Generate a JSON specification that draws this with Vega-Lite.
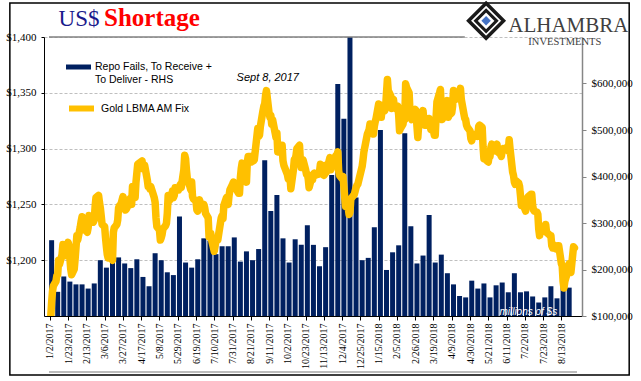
{
  "$schema": "https://vega.github.io/schema/vega-lite/v6.json",
  "width": 538,
  "height": 279,
  "autosize": {"type": "none"},
  "padding": {"left": 44, "top": 37, "right": 59, "bottom": 65},
  "background": "white",
  "config": {
    "view": {"stroke": null},
    "axisX": {"labelOverlap": false, "labelFlush": false, "labelBound": false, "labelAngle": 270, "labelAlign": "right", "labelBaseline": "middle", "labelFont": "Liberation Serif", "labelFontSize": 10, "labelColor": "black", "labelPadding": 3, "tickSize": 4, "tickColor": "black", "domainColor": "black", "grid": false, "title": null}
  },
  "datasets": {
    "repo": [
      {"week":"2017-01-04","fails":263000},{"week":"2017-01-11","fails":152000},{"week":"2017-01-18","fails":185000},{"week":"2017-01-25","fails":174000},
      {"week":"2017-02-01","fails":168000},{"week":"2017-02-08","fails":168000},{"week":"2017-02-15","fails":159000},{"week":"2017-02-22","fails":170000},
      {"week":"2017-03-01","fails":220000},{"week":"2017-03-08","fails":204000},{"week":"2017-03-15","fails":217000},{"week":"2017-03-22","fails":226000},
      {"week":"2017-03-29","fails":213000},{"week":"2017-04-05","fails":203000},{"week":"2017-04-12","fails":222000},{"week":"2017-04-19","fails":184000},
      {"week":"2017-04-26","fails":164000},{"week":"2017-05-03","fails":235000},{"week":"2017-05-10","fails":220000},{"week":"2017-05-17","fails":194000},
      {"week":"2017-05-24","fails":188000},{"week":"2017-05-31","fails":314000},{"week":"2017-06-07","fails":215000},{"week":"2017-06-14","fails":204000},
      {"week":"2017-06-21","fails":222000},{"week":"2017-06-28","fails":267000},{"week":"2017-07-05","fails":262000},{"week":"2017-07-12","fails":233000},
      {"week":"2017-07-19","fails":250000},{"week":"2017-07-26","fails":250000},{"week":"2017-08-02","fails":269000},{"week":"2017-08-09","fails":217000},
      {"week":"2017-08-16","fails":239000},{"week":"2017-08-23","fails":220000},{"week":"2017-08-30","fails":244000},{"week":"2017-09-06","fails":435000},
      {"week":"2017-09-13","fails":326000},{"week":"2017-09-20","fails":360000},{"week":"2017-09-27","fails":267000},{"week":"2017-10-04","fails":215000},
      {"week":"2017-10-11","fails":265000},{"week":"2017-10-18","fails":253000},{"week":"2017-10-25","fails":295000},{"week":"2017-11-01","fails":253000},
      {"week":"2017-11-08","fails":207000},{"week":"2017-11-15","fails":248000},{"week":"2017-11-22","fails":403000},{"week":"2017-11-29","fails":599000},
      {"week":"2017-12-06","fails":524000},{"week":"2017-12-13","fails":760000},{"week":"2017-12-20","fails":355000},{"week":"2017-12-27","fails":220000},
      {"week":"2018-01-03","fails":225000},{"week":"2018-01-10","fails":291000},{"week":"2018-01-17","fails":500000},{"week":"2018-01-24","fails":199000},
      {"week":"2018-01-31","fails":237000},{"week":"2018-02-07","fails":252000},{"week":"2018-02-14","fails":493000},{"week":"2018-02-21","fails":293000},
      {"week":"2018-02-28","fails":213000},{"week":"2018-03-07","fails":230000},{"week":"2018-03-14","fails":317000},{"week":"2018-03-21","fails":215000},
      {"week":"2018-03-28","fails":232000},{"week":"2018-04-04","fails":192000},{"week":"2018-04-11","fails":168000},{"week":"2018-04-18","fails":143000},
      {"week":"2018-04-25","fails":140000},{"week":"2018-05-02","fails":176000},{"week":"2018-05-09","fails":159000},{"week":"2018-05-16","fails":170000},
      {"week":"2018-05-23","fails":140000},{"week":"2018-05-30","fails":166000},{"week":"2018-06-06","fails":172000},{"week":"2018-06-13","fails":151000},
      {"week":"2018-06-20","fails":192000},{"week":"2018-06-27","fails":151000},{"week":"2018-07-04","fails":153000},{"week":"2018-07-11","fails":142000},
      {"week":"2018-07-18","fails":129000},{"week":"2018-07-25","fails":140000},{"week":"2018-08-01","fails":164000},{"week":"2018-08-08","fails":138000},
      {"week":"2018-08-15","fails":162000},{"week":"2018-08-22","fails":161000}
    ],
    "gold": [
      {"date":"2017-01-03","gold":1149},{"date":"2017-01-04","gold":1162},{"date":"2017-01-05","gold":1172},{"date":"2017-01-06","gold":1177},
      {"date":"2017-01-09","gold":1181},{"date":"2017-01-10","gold":1186},{"date":"2017-01-11","gold":1187},{"date":"2017-01-12","gold":1200},
      {"date":"2017-01-13","gold":1196},{"date":"2017-01-16","gold":1205},{"date":"2017-01-17","gold":1214},{"date":"2017-01-18","gold":1212},
      {"date":"2017-01-19","gold":1204},{"date":"2017-01-20","gold":1205},{"date":"2017-01-23","gold":1216},{"date":"2017-01-24","gold":1213},
      {"date":"2017-01-25","gold":1202},{"date":"2017-01-26","gold":1192},{"date":"2017-01-27","gold":1187},{"date":"2017-01-30","gold":1192},
      {"date":"2017-01-31","gold":1201},{"date":"2017-02-01","gold":1211},{"date":"2017-02-02","gold":1222},{"date":"2017-02-03","gold":1218},
      {"date":"2017-02-06","gold":1230},{"date":"2017-02-07","gold":1235},{"date":"2017-02-08","gold":1239},{"date":"2017-02-09","gold":1232},
      {"date":"2017-02-10","gold":1228},{"date":"2017-02-13","gold":1226},{"date":"2017-02-14","gold":1225},{"date":"2017-02-15","gold":1229},
      {"date":"2017-02-16","gold":1240},{"date":"2017-02-17","gold":1238},{"date":"2017-02-20","gold":1237},{"date":"2017-02-21","gold":1234},
      {"date":"2017-02-22","gold":1236},{"date":"2017-02-23","gold":1248},{"date":"2017-02-24","gold":1256},{"date":"2017-02-27","gold":1258},
      {"date":"2017-02-28","gold":1252},{"date":"2017-03-01","gold":1247},{"date":"2017-03-02","gold":1240},{"date":"2017-03-03","gold":1232},
      {"date":"2017-03-06","gold":1230},{"date":"2017-03-07","gold":1220},{"date":"2017-03-08","gold":1212},{"date":"2017-03-09","gold":1205},
      {"date":"2017-03-10","gold":1202},{"date":"2017-03-13","gold":1203},{"date":"2017-03-14","gold":1201},{"date":"2017-03-15","gold":1200},
      {"date":"2017-03-16","gold":1225},{"date":"2017-03-17","gold":1229},{"date":"2017-03-20","gold":1232},{"date":"2017-03-21","gold":1236},
      {"date":"2017-03-22","gold":1247},{"date":"2017-03-23","gold":1249},{"date":"2017-03-24","gold":1248},{"date":"2017-03-27","gold":1257},
      {"date":"2017-03-28","gold":1253},{"date":"2017-03-29","gold":1252},{"date":"2017-03-30","gold":1245},{"date":"2017-03-31","gold":1246},
      {"date":"2017-04-03","gold":1251},{"date":"2017-04-04","gold":1255},{"date":"2017-04-05","gold":1256},{"date":"2017-04-06","gold":1250},
      {"date":"2017-04-07","gold":1266},{"date":"2017-04-10","gold":1256},{"date":"2017-04-11","gold":1270},{"date":"2017-04-12","gold":1278},
      {"date":"2017-04-13","gold":1286},{"date":"2017-04-18","gold":1289},{"date":"2017-04-19","gold":1282},{"date":"2017-04-20","gold":1283},
      {"date":"2017-04-21","gold":1285},{"date":"2017-04-24","gold":1272},{"date":"2017-04-25","gold":1266},{"date":"2017-04-26","gold":1266},
      {"date":"2017-04-27","gold":1264},{"date":"2017-04-28","gold":1266},{"date":"2017-05-02","gold":1256},{"date":"2017-05-03","gold":1252},
      {"date":"2017-05-04","gold":1238},{"date":"2017-05-05","gold":1230},{"date":"2017-05-08","gold":1227},{"date":"2017-05-09","gold":1218},
      {"date":"2017-05-10","gold":1220},{"date":"2017-05-11","gold":1223},{"date":"2017-05-12","gold":1228},{"date":"2017-05-15","gold":1231},
      {"date":"2017-05-16","gold":1233},{"date":"2017-05-17","gold":1242},{"date":"2017-05-18","gold":1258},{"date":"2017-05-19","gold":1253},
      {"date":"2017-05-22","gold":1257},{"date":"2017-05-23","gold":1262},{"date":"2017-05-24","gold":1256},{"date":"2017-05-25","gold":1258},
      {"date":"2017-05-26","gold":1265},{"date":"2017-05-30","gold":1263},{"date":"2017-05-31","gold":1266},{"date":"2017-06-01","gold":1268},
      {"date":"2017-06-02","gold":1265},{"date":"2017-06-05","gold":1281},{"date":"2017-06-06","gold":1294},{"date":"2017-06-07","gold":1291},
      {"date":"2017-06-08","gold":1281},{"date":"2017-06-09","gold":1273},{"date":"2017-06-12","gold":1266},{"date":"2017-06-13","gold":1263},
      {"date":"2017-06-14","gold":1270},{"date":"2017-06-15","gold":1257},{"date":"2017-06-16","gold":1255},{"date":"2017-06-19","gold":1253},
      {"date":"2017-06-20","gold":1245},{"date":"2017-06-21","gold":1244},{"date":"2017-06-22","gold":1251},{"date":"2017-06-23","gold":1254},
      {"date":"2017-06-26","gold":1247},{"date":"2017-06-27","gold":1247},{"date":"2017-06-28","gold":1250},{"date":"2017-06-29","gold":1247},
      {"date":"2017-06-30","gold":1242},{"date":"2017-07-03","gold":1238},{"date":"2017-07-04","gold":1221},{"date":"2017-07-05","gold":1224},
      {"date":"2017-07-06","gold":1224},{"date":"2017-07-07","gold":1218},{"date":"2017-07-10","gold":1208},{"date":"2017-07-11","gold":1213},
      {"date":"2017-07-12","gold":1219},{"date":"2017-07-13","gold":1219},{"date":"2017-07-14","gold":1218},{"date":"2017-07-17","gold":1233},
      {"date":"2017-07-18","gold":1238},{"date":"2017-07-19","gold":1240},{"date":"2017-07-20","gold":1237},{"date":"2017-07-21","gold":1249},
      {"date":"2017-07-24","gold":1256},{"date":"2017-07-25","gold":1253},{"date":"2017-07-26","gold":1250},{"date":"2017-07-27","gold":1258},
      {"date":"2017-07-28","gold":1263},{"date":"2017-07-31","gold":1268},{"date":"2017-08-01","gold":1270},{"date":"2017-08-02","gold":1268},
      {"date":"2017-08-03","gold":1268},{"date":"2017-08-04","gold":1264},{"date":"2017-08-07","gold":1260},{"date":"2017-08-08","gold":1260},
      {"date":"2017-08-09","gold":1274},{"date":"2017-08-10","gold":1282},{"date":"2017-08-11","gold":1287},{"date":"2017-08-14","gold":1284},
      {"date":"2017-08-15","gold":1274},{"date":"2017-08-16","gold":1270},{"date":"2017-08-17","gold":1288},{"date":"2017-08-18","gold":1293},
      {"date":"2017-08-21","gold":1293},{"date":"2017-08-22","gold":1288},{"date":"2017-08-23","gold":1290},{"date":"2017-08-24","gold":1289},
      {"date":"2017-08-25","gold":1290},{"date":"2017-08-29","gold":1318},{"date":"2017-08-30","gold":1311},{"date":"2017-08-31","gold":1312},
      {"date":"2017-09-01","gold":1320},{"date":"2017-09-04","gold":1334},{"date":"2017-09-05","gold":1338},{"date":"2017-09-06","gold":1340},
      {"date":"2017-09-07","gold":1348},{"date":"2017-09-08","gold":1352},{"date":"2017-09-11","gold":1332},{"date":"2017-09-12","gold":1328},
      {"date":"2017-09-13","gold":1330},{"date":"2017-09-14","gold":1322},{"date":"2017-09-15","gold":1326},{"date":"2017-09-18","gold":1314},
      {"date":"2017-09-19","gold":1310},{"date":"2017-09-20","gold":1314},{"date":"2017-09-21","gold":1297},{"date":"2017-09-22","gold":1297},
      {"date":"2017-09-25","gold":1303},{"date":"2017-09-26","gold":1303},{"date":"2017-09-27","gold":1289},{"date":"2017-09-28","gold":1285},
      {"date":"2017-09-29","gold":1283},{"date":"2017-10-02","gold":1277},{"date":"2017-10-03","gold":1273},{"date":"2017-10-04","gold":1277},
      {"date":"2017-10-05","gold":1276},{"date":"2017-10-06","gold":1264},{"date":"2017-10-09","gold":1281},{"date":"2017-10-10","gold":1290},
      {"date":"2017-10-11","gold":1290},{"date":"2017-10-12","gold":1294},{"date":"2017-10-13","gold":1300},{"date":"2017-10-16","gold":1303},
      {"date":"2017-10-17","gold":1289},{"date":"2017-10-18","gold":1283},{"date":"2017-10-19","gold":1285},{"date":"2017-10-20","gold":1290},
      {"date":"2017-10-23","gold":1281},{"date":"2017-10-24","gold":1277},{"date":"2017-10-25","gold":1277},{"date":"2017-10-26","gold":1273},
      {"date":"2017-10-27","gold":1265},{"date":"2017-10-30","gold":1274},{"date":"2017-10-31","gold":1272},{"date":"2017-11-01","gold":1277},
      {"date":"2017-11-02","gold":1278},{"date":"2017-11-03","gold":1276},{"date":"2017-11-06","gold":1277},{"date":"2017-11-07","gold":1277},
      {"date":"2017-11-08","gold":1279},{"date":"2017-11-09","gold":1286},{"date":"2017-11-10","gold":1285},{"date":"2017-11-13","gold":1276},
      {"date":"2017-11-14","gold":1277},{"date":"2017-11-15","gold":1285},{"date":"2017-11-16","gold":1279},{"date":"2017-11-17","gold":1283},
      {"date":"2017-11-20","gold":1292},{"date":"2017-11-21","gold":1281},{"date":"2017-11-22","gold":1284},{"date":"2017-11-23","gold":1291},
      {"date":"2017-11-24","gold":1290},{"date":"2017-11-27","gold":1294},{"date":"2017-11-28","gold":1294},{"date":"2017-11-29","gold":1297},
      {"date":"2017-11-30","gold":1280},{"date":"2017-12-01","gold":1276},{"date":"2017-12-04","gold":1273},{"date":"2017-12-05","gold":1275},
      {"date":"2017-12-06","gold":1266},{"date":"2017-12-07","gold":1256},{"date":"2017-12-08","gold":1248},{"date":"2017-12-11","gold":1247},
      {"date":"2017-12-12","gold":1241},{"date":"2017-12-13","gold":1243},{"date":"2017-12-14","gold":1255},{"date":"2017-12-15","gold":1256},
      {"date":"2017-12-18","gold":1259},{"date":"2017-12-19","gold":1262},{"date":"2017-12-20","gold":1265},{"date":"2017-12-21","gold":1267},
      {"date":"2017-12-22","gold":1268},{"date":"2017-12-27","gold":1284},{"date":"2017-12-28","gold":1290},{"date":"2017-12-29","gold":1297},
      {"date":"2018-01-02","gold":1313},{"date":"2018-01-03","gold":1315},{"date":"2018-01-04","gold":1317},{"date":"2018-01-05","gold":1322},
      {"date":"2018-01-08","gold":1321},{"date":"2018-01-09","gold":1313},{"date":"2018-01-10","gold":1320},{"date":"2018-01-11","gold":1324},
      {"date":"2018-01-12","gold":1327},{"date":"2018-01-15","gold":1340},{"date":"2018-01-16","gold":1337},{"date":"2018-01-17","gold":1339},
      {"date":"2018-01-18","gold":1328},{"date":"2018-01-19","gold":1336},{"date":"2018-01-22","gold":1334},{"date":"2018-01-23","gold":1337},
      {"date":"2018-01-24","gold":1350},{"date":"2018-01-25","gold":1362},{"date":"2018-01-26","gold":1352},{"date":"2018-01-29","gold":1347},
      {"date":"2018-01-30","gold":1336},{"date":"2018-01-31","gold":1343},{"date":"2018-02-01","gold":1344},{"date":"2018-02-02","gold":1338},
      {"date":"2018-02-05","gold":1335},{"date":"2018-02-06","gold":1338},{"date":"2018-02-07","gold":1330},{"date":"2018-02-08","gold":1316},
      {"date":"2018-02-09","gold":1318},{"date":"2018-02-12","gold":1322},{"date":"2018-02-13","gold":1328},{"date":"2018-02-14","gold":1326},
      {"date":"2018-02-15","gold":1358},{"date":"2018-02-16","gold":1355},{"date":"2018-02-19","gold":1350},{"date":"2018-02-20","gold":1333},
      {"date":"2018-02-21","gold":1330},{"date":"2018-02-22","gold":1326},{"date":"2018-02-23","gold":1331},{"date":"2018-02-26","gold":1335},
      {"date":"2018-02-27","gold":1334},{"date":"2018-02-28","gold":1320},{"date":"2018-03-01","gold":1310},{"date":"2018-03-02","gold":1321},
      {"date":"2018-03-05","gold":1323},{"date":"2018-03-06","gold":1330},{"date":"2018-03-07","gold":1334},{"date":"2018-03-08","gold":1325},
      {"date":"2018-03-09","gold":1321},{"date":"2018-03-12","gold":1321},{"date":"2018-03-13","gold":1321},{"date":"2018-03-14","gold":1327},
      {"date":"2018-03-15","gold":1321},{"date":"2018-03-16","gold":1317},{"date":"2018-03-19","gold":1316},{"date":"2018-03-20","gold":1312},
      {"date":"2018-03-21","gold":1312},{"date":"2018-03-22","gold":1328},{"date":"2018-03-23","gold":1342},{"date":"2018-03-26","gold":1350},
      {"date":"2018-03-27","gold":1353},{"date":"2018-03-28","gold":1335},{"date":"2018-03-29","gold":1326},{"date":"2018-04-03","gold":1335},
      {"date":"2018-04-04","gold":1343},{"date":"2018-04-05","gold":1328},{"date":"2018-04-06","gold":1330},{"date":"2018-04-09","gold":1332},
      {"date":"2018-04-10","gold":1338},{"date":"2018-04-11","gold":1352},{"date":"2018-04-12","gold":1344},{"date":"2018-04-13","gold":1344},
      {"date":"2018-04-16","gold":1348},{"date":"2018-04-17","gold":1348},{"date":"2018-04-18","gold":1350},{"date":"2018-04-19","gold":1354},
      {"date":"2018-04-20","gold":1344},{"date":"2018-04-23","gold":1331},{"date":"2018-04-24","gold":1327},{"date":"2018-04-25","gold":1326},
      {"date":"2018-04-26","gold":1321},{"date":"2018-04-27","gold":1319},{"date":"2018-04-30","gold":1316},{"date":"2018-05-01","gold":1309},
      {"date":"2018-05-02","gold":1307},{"date":"2018-05-03","gold":1313},{"date":"2018-05-04","gold":1311},{"date":"2018-05-08","gold":1313},
      {"date":"2018-05-09","gold":1311},{"date":"2018-05-10","gold":1320},{"date":"2018-05-11","gold":1321},{"date":"2018-05-14","gold":1319},
      {"date":"2018-05-15","gold":1302},{"date":"2018-05-16","gold":1291},{"date":"2018-05-17","gold":1291},{"date":"2018-05-18","gold":1290},
      {"date":"2018-05-21","gold":1288},{"date":"2018-05-22","gold":1293},{"date":"2018-05-23","gold":1293},{"date":"2018-05-24","gold":1301},
      {"date":"2018-05-25","gold":1304},{"date":"2018-05-29","gold":1298},{"date":"2018-05-30","gold":1302},{"date":"2018-05-31","gold":1304},
      {"date":"2018-06-01","gold":1297},{"date":"2018-06-04","gold":1295},{"date":"2018-06-05","gold":1293},{"date":"2018-06-06","gold":1298},
      {"date":"2018-06-07","gold":1300},{"date":"2018-06-08","gold":1299},{"date":"2018-06-11","gold":1301},{"date":"2018-06-12","gold":1299},
      {"date":"2018-06-13","gold":1298},{"date":"2018-06-14","gold":1308},{"date":"2018-06-15","gold":1300},{"date":"2018-06-18","gold":1279},
      {"date":"2018-06-19","gold":1276},{"date":"2018-06-20","gold":1270},{"date":"2018-06-21","gold":1268},{"date":"2018-06-22","gold":1271},
      {"date":"2018-06-25","gold":1269},{"date":"2018-06-26","gold":1266},{"date":"2018-06-27","gold":1258},{"date":"2018-06-28","gold":1249},
      {"date":"2018-06-29","gold":1252},{"date":"2018-07-02","gold":1246},{"date":"2018-07-03","gold":1244},{"date":"2018-07-04","gold":1255},
      {"date":"2018-07-05","gold":1254},{"date":"2018-07-06","gold":1257},{"date":"2018-07-09","gold":1259},{"date":"2018-07-10","gold":1259},
      {"date":"2018-07-11","gold":1249},{"date":"2018-07-12","gold":1245},{"date":"2018-07-13","gold":1244},{"date":"2018-07-16","gold":1243},
      {"date":"2018-07-17","gold":1241},{"date":"2018-07-18","gold":1228},{"date":"2018-07-19","gold":1222},{"date":"2018-07-20","gold":1228},
      {"date":"2018-07-23","gold":1226},{"date":"2018-07-24","gold":1229},{"date":"2018-07-25","gold":1228},{"date":"2018-07-26","gold":1232},
      {"date":"2018-07-27","gold":1225},{"date":"2018-07-30","gold":1223},{"date":"2018-07-31","gold":1222},{"date":"2018-08-01","gold":1222},
      {"date":"2018-08-02","gold":1213},{"date":"2018-08-03","gold":1211},{"date":"2018-08-06","gold":1213},{"date":"2018-08-07","gold":1210},
      {"date":"2018-08-08","gold":1212},{"date":"2018-08-09","gold":1213},{"date":"2018-08-10","gold":1213},{"date":"2018-08-13","gold":1197},
      {"date":"2018-08-14","gold":1195},{"date":"2018-08-15","gold":1181},{"date":"2018-08-16","gold":1175},{"date":"2018-08-17","gold":1181},
      {"date":"2018-08-20","gold":1189},{"date":"2018-08-21","gold":1195},{"date":"2018-08-22","gold":1197},{"date":"2018-08-23","gold":1195},
      {"date":"2018-08-24","gold":1189},{"date":"2018-08-27","gold":1212},{"date":"2018-08-28","gold":1211}
    ]
  },
  "resolve": {"scale": {"y": "independent"}},
  "layer": [
    {
      "data": {"name": "repo"},
      "mark": {"type": "bar", "size": 5, "clip": true},
      "encoding": {
        "x": {
          "field": "week", "type": "temporal", "title": null,
          "scale": {"type": "utc", "domain": [{"year": 2017, "month": 1, "date": 1, "utc": true}, {"year": 2018, "month": 8, "date": 31, "utc": true}]},
          "axis": {
            "orient": "bottom", "title": null, "grid": false, "tickCount": 60,
            "values": [
              {"year":2017,"month":1,"date":2,"utc":true},{"year":2017,"month":1,"date":23,"utc":true},{"year":2017,"month":2,"date":13,"utc":true},
              {"year":2017,"month":3,"date":6,"utc":true},{"year":2017,"month":3,"date":27,"utc":true},{"year":2017,"month":4,"date":17,"utc":true},
              {"year":2017,"month":5,"date":8,"utc":true},{"year":2017,"month":5,"date":29,"utc":true},{"year":2017,"month":6,"date":19,"utc":true},
              {"year":2017,"month":7,"date":10,"utc":true},{"year":2017,"month":7,"date":31,"utc":true},{"year":2017,"month":8,"date":21,"utc":true},
              {"year":2017,"month":9,"date":11,"utc":true},{"year":2017,"month":10,"date":2,"utc":true},{"year":2017,"month":10,"date":23,"utc":true},
              {"year":2017,"month":11,"date":13,"utc":true},{"year":2017,"month":12,"date":4,"utc":true},{"year":2017,"month":12,"date":25,"utc":true},
              {"year":2018,"month":1,"date":15,"utc":true},{"year":2018,"month":2,"date":5,"utc":true},{"year":2018,"month":2,"date":26,"utc":true},
              {"year":2018,"month":3,"date":19,"utc":true},{"year":2018,"month":4,"date":9,"utc":true},{"year":2018,"month":4,"date":30,"utc":true},
              {"year":2018,"month":5,"date":21,"utc":true},{"year":2018,"month":6,"date":11,"utc":true},{"year":2018,"month":7,"date":2,"utc":true},
              {"year":2018,"month":7,"date":23,"utc":true},{"year":2018,"month":8,"date":13,"utc":true}
            ],
            "format": "%-m/%-d/%Y",
            "labelAngle": 270, "labelAlign": "right", "labelBaseline": "middle",
            "labelFont": "Liberation Serif", "labelFontSize": 10, "labelColor": "black",
            "labelPadding": 3, "labelOverlap": false, "labelFlush": false, "labelBound": false,
            "tickSize": 4, "tickColor": "black", "domainColor": "black"
          }
        },
        "y": {
          "field": "fails", "type": "quantitative", "title": null,
          "scale": {"domain": [100000, 700000], "nice": false, "zero": false},
          "axis": {
            "orient": "right", "title": null, "grid": false,
            "values": [100000, 200000, 300000, 400000, 500000, 600000],
            "format": "$,d",
            "labelFont": "Liberation Serif", "labelFontSize": 11, "labelColor": "black", "labelPadding": 5,
            "tickSize": 4, "tickColor": "#868686", "domainColor": "#868686", "domainWidth": 1.5
          }
        },
        "fill": {
          "datum": "Repo Fails, To Receive + To Deliver - RHS", "type": "nominal",
          "scale": {"range": ["#002060"]},
          "legend": {
            "orient": "none", "legendX": 22, "legendY": 17.5, "title": null, "padding": 0,
            "symbolType": "M-1,-0.2H1V0.2H-1Z", "symbolSize": 625, "symbolStrokeWidth": 0,
            "labelFont": "Liberation Sans", "labelFontSize": 10.5, "labelColor": "black", "labelOffset": 4, "labelLimit": 0,
            "labelExpr": "['Repo Fails, To Receive +', 'To Deliver - RHS']"
          }
        }
      }
    },
    {
      "resolve": {"scale": {"y": "shared"}},
      "layer": [
        {
          "data": {"name": "gold"},
          "mark": {"type": "line", "strokeWidth": 7.5, "strokeJoin": "round", "strokeCap": "round", "clip": true},
          "encoding": {
            "x": {"field": "date", "type": "temporal", "title": null,
              "scale": {"type": "utc", "domain": [{"year": 2017, "month": 1, "date": 1, "utc": true}, {"year": 2018, "month": 8, "date": 31, "utc": true}]},
              "axis": {"labelOverlap": false, "format": "%-m/%-d/%Y", "tickCount": 60}},
            "y": {
              "field": "gold", "type": "quantitative", "title": null,
              "scale": {"domain": [1150, 1400], "nice": false, "zero": false},
              "axis": {
                "orient": "left", "title": null,
                "values": [1200, 1250, 1300, 1350, 1400],
                "format": "$,d",
                "labelFont": "Liberation Serif", "labelFontSize": 11, "labelColor": "black", "labelPadding": 5,
                "tickSize": 3, "tickColor": "black", "domainColor": "black",
                "grid": true, "gridColor": "#BFBFBF", "gridDash": [3, 2], "gridWidth": 1
              }
            },
            "stroke": {
              "datum": "Gold LBMA AM Fix", "type": "nominal",
              "scale": {"range": ["#FFC000"]},
              "legend": {
                "orient": "none", "legendX": 22, "legendY": 56, "title": null, "padding": 0,
                "symbolType": "stroke", "symbolSize": 625, "symbolStrokeWidth": 6,
                "labelFont": "Liberation Sans", "labelFontSize": 10.5, "labelColor": "black", "labelOffset": 4, "labelLimit": 0
              }
            }
          }
        },
        {
          "data": {"values": [{"label": "Sept 8, 2017"}]},
          "mark": {"type": "text", "font": "Liberation Sans", "fontSize": 11, "fontStyle": "italic", "align": "center", "baseline": "alphabetic", "color": "black"},
          "encoding": {
            "x": {"datum": {"year": 2017, "month": 9, "date": 9, "hours": 12, "utc": true}, "type": "temporal"},
            "y": {"datum": 1360.6, "type": "quantitative", "scale": {"domain": [1150, 1400], "nice": false, "zero": false}},
            "text": {"field": "label"}
          }
        },
        {
          "data": {"values": [{"label": "millions of $s"}]},
          "mark": {"type": "text", "font": "Liberation Sans", "fontSize": 10, "fontStyle": "italic", "align": "center", "baseline": "alphabetic", "color": "white"},
          "encoding": {
            "x": {"datum": {"year": 2018, "month": 7, "date": 6, "utc": true}, "type": "temporal"},
            "y": {"datum": 1151.3, "type": "quantitative", "scale": {"domain": [1150, 1400], "nice": false, "zero": false}},
            "text": {"field": "label"}
          }
        },
        {
          "data": {"values": [{"label": "US$"}]},
          "mark": {"type": "text", "font": "Liberation Serif", "fontSize": 23, "align": "left", "baseline": "alphabetic", "color": "#1a1a8c"},
          "encoding": {
            "x": {"datum": {"year": 2017, "month": 1, "date": 12, "utc": true}, "type": "temporal"},
            "y": {"datum": 1409.9, "type": "quantitative", "scale": {"domain": [1150, 1400], "nice": false, "zero": false}},
            "text": {"field": "label"}
          }
        },
        {
          "data": {"values": [{"label": "Shortage"}]},
          "mark": {"type": "text", "font": "Liberation Serif", "fontSize": 25, "fontWeight": "bold", "align": "left", "baseline": "alphabetic", "color": "#FF0000"},
          "encoding": {
            "x": {"datum": {"year": 2017, "month": 3, "date": 5, "hours": 5, "utc": true}, "type": "temporal"},
            "y": {"datum": 1409.9, "type": "quantitative", "scale": {"domain": [1150, 1400], "nice": false, "zero": false}},
            "text": {"field": "label"}
          }
        },
        {
          "data": {"values": [{"part": "top rule"}]},
          "mark": {"type": "rule", "color": "#808080", "strokeWidth": 1.5},
          "encoding": {
            "x": {"datum": {"year": 2017, "month": 1, "date": 1, "utc": true}, "type": "temporal"},
            "x2": {"datum": {"year": 2018, "month": 4, "date": 24, "utc": true}},
            "y": {"datum": 1400, "type": "quantitative", "scale": {"domain": [1150, 1400], "nice": false, "zero": false}}
          }
        },
        {
          "data": {"values": [{"part": "bottom rule"}]},
          "mark": {"type": "rule", "color": "#A6A6A6", "strokeWidth": 1.5},
          "encoding": {
            "x": {"datum": {"year": 2017, "month": 1, "date": 1, "utc": true}, "type": "temporal"},
            "x2": {"datum": {"year": 2018, "month": 8, "date": 31, "utc": true}},
            "y": {"datum": 1099.8, "type": "quantitative", "scale": {"domain": [1150, 1400], "nice": false, "zero": false}}
          }
        },
        {
          "data": {"values": [{"part": "frame"}]},
          "mark": {"type": "rect", "filled": false, "stroke": "black", "strokeWidth": 1.5},
          "encoding": {
            "x": {"datum": {"year": 2016, "month": 11, "date": 17, "utc": true}, "type": "temporal"},
            "x2": {"datum": {"year": 2018, "month": 10, "date": 30, "utc": true}},
            "y": {"datum": 1430.5, "type": "quantitative", "scale": {"domain": [1150, 1400], "nice": false, "zero": false}},
            "y2": {"datum": 1097.1}
          }
        },
        {
          "data": {"values": [{"part": "logo outer"}]},
          "mark": {"type": "point", "shape": "diamond", "size": 1225, "filled": true, "fill": "white", "stroke": "#1a1a1a", "strokeWidth": 3.5, "opacity": 1},
          "encoding": {
            "x": {"datum": {"year": 2018, "month": 5, "date": 18, "hours": 12, "utc": true}, "type": "temporal"},
            "y": {"datum": 1414.5, "type": "quantitative", "scale": {"domain": [1150, 1400], "nice": false, "zero": false}}
          }
        },
        {
          "data": {"values": [{"part": "logo middle"}]},
          "mark": {"type": "point", "shape": "diamond", "size": 440, "filled": false, "stroke": "#1a1a1a", "strokeWidth": 3, "opacity": 1},
          "encoding": {
            "x": {"datum": {"year": 2018, "month": 5, "date": 18, "hours": 12, "utc": true}, "type": "temporal"},
            "y": {"datum": 1414.5, "type": "quantitative", "scale": {"domain": [1150, 1400], "nice": false, "zero": false}}
          }
        },
        {
          "data": {"values": [{"part": "logo centre"}]},
          "mark": {"type": "point", "shape": "diamond", "size": 90, "filled": true, "fill": "#4472C4", "strokeWidth": 0, "opacity": 1},
          "encoding": {
            "x": {"datum": {"year": 2018, "month": 5, "date": 18, "hours": 12, "utc": true}, "type": "temporal"},
            "y": {"datum": 1414.5, "type": "quantitative", "scale": {"domain": [1150, 1400], "nice": false, "zero": false}}
          }
        },
        {
          "data": {"values": [{"label": "ALHAMBRA"}]},
          "mark": {"type": "text", "font": "Liberation Serif", "fontSize": 21, "align": "left", "baseline": "alphabetic", "color": "#404040"},
          "encoding": {
            "x": {"datum": {"year": 2018, "month": 6, "date": 13, "utc": true}, "type": "temporal"},
            "y": {"datum": 1404.2, "type": "quantitative", "scale": {"domain": [1150, 1400], "nice": false, "zero": false}},
            "text": {"field": "label"}
          }
        },
        {
          "data": {"values": [{"label": "INVESTMENTS"}]},
          "mark": {"type": "text", "font": "Liberation Serif", "fontSize": 10.5, "align": "center", "baseline": "alphabetic", "color": "#404040"},
          "encoding": {
            "x": {"datum": {"year": 2018, "month": 8, "date": 17, "utc": true}, "type": "temporal"},
            "y": {"datum": 1392.8, "type": "quantitative", "scale": {"domain": [1150, 1400], "nice": false, "zero": false}},
            "text": {"field": "label"}
          }
        }
      ]
    }
  ]
}
